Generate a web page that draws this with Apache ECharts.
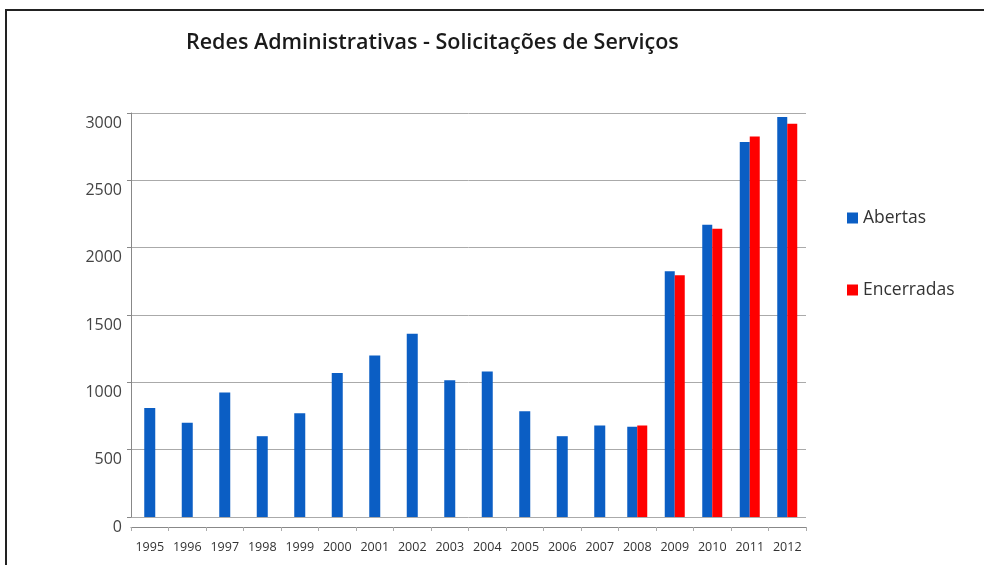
<!DOCTYPE html>
<html>
<head>
<meta charset="utf-8">
<script src="https://cdn.jsdelivr.net/npm/echarts@6/dist/echarts.min.js"></script>
<style>
html,body{margin:0;padding:0;background:#fff;}
#c{width:984px;height:565px;}
</style>
</head>
<body>
<div id="c"></div>
<script>
var years = ['1995','1996','1997','1998','1999','2000','2001','2002','2003','2004','2005','2006','2007','2008','2009','2010','2011','2012'];
var abertas = [810, 700, 925, 600, 770, 1070, 1200, 1360, 1015, 1080, 785, 600, 680, 670, 1825, 2170, 2785, 2970];
var encerradas = [null, null, null, null, null, null, null, null, null, null, null, null, null, 680, 1795, 2140, 2825, 2920];
var yTicks = [0, 500, 1000, 1500, 2000, 2500, 3000];

var BLUE = '#0b5ec4', RED = '#ff0000';
var abertasPaired = abertas.map(function (v, i) { return encerradas[i] == null ? null : v; });
var abertasSingle = abertas.map(function (v, i) { return encerradas[i] == null ? v : null; });

var chart = echarts.init(document.getElementById('c'), null, {renderer: 'canvas'});
chart.setOption({
  animation: false,
  backgroundColor: '#fff',
  title: {
    text: 'Redes Administrativas - Solicitações de Serviços',
    left: 181, top: 27,
    textStyle: {fontFamily: 'Open Sans', fontSize: 21.5, fontWeight: 600, color: '#1a1a1a'}
  },
  legend: {
    orient: 'vertical', left: 842, top: 204,
    itemWidth: 11, itemHeight: 11, itemGap: 54,
    icon: 'rect',
    data: ['Abertas', 'Encerradas'],
    textStyle: {fontFamily: 'Open Sans', fontSize: 17.5, color: '#333', padding: [0, 0, 0, 0]}
  },
  grid: {left: 131, right: 178, top: 113, bottom: 48, containLabel: false},
  xAxis: [{
    type: 'category', data: years, offset: 10,
    axisLine: {show: true, onZero: false, lineStyle: {color: '#888'}},
    axisTick: {show: true, length: 4, lineStyle: {color: '#aaa'}},
    axisLabel: {fontFamily: 'Open Sans', fontSize: 12.5, color: '#333', margin: 14, interval: 0}
  }, {
    type: 'category', data: years, show: false
  }],
  yAxis: {
    type: 'value', min: 0, max: 3000, interval: 500,
    axisLine: {show: true, lineStyle: {color: '#888'}},
    axisTick: {show: true, length: 4, lineStyle: {color: '#888'}},
    axisLabel: {
      fontFamily: 'Open Sans', fontSize: 16, color: '#444', margin: 9,
      verticalAlign: 'top', lineHeight: 20,
      formatter: function (v) { return yTicks.indexOf(v) >= 0 ? String(v) : ''; }
    },
    splitLine: {show: true, lineStyle: {color: '#aaa', width: 1}}
  },
  series: [{
    name: 'Abertas', type: 'bar', xAxisIndex: 0, data: abertasPaired,
    barWidth: 10, barGap: '0%', itemStyle: {color: BLUE}
  }, {
    name: 'Encerradas', type: 'bar', xAxisIndex: 0, data: encerradas,
    barWidth: 10, barGap: '0%', itemStyle: {color: RED}
  }, {
    name: 'Abertas', type: 'bar', xAxisIndex: 1, data: abertasSingle,
    barWidth: 11, itemStyle: {color: BLUE}
  }],
  graphic: [{
    type: 'polyline', silent: true,
    shape: {points: [[6, 565], [6, 10], [984, 10]]},
    style: {stroke: '#222', lineWidth: 2, fill: null}
  }]
});
</script>
</body>
</html>
